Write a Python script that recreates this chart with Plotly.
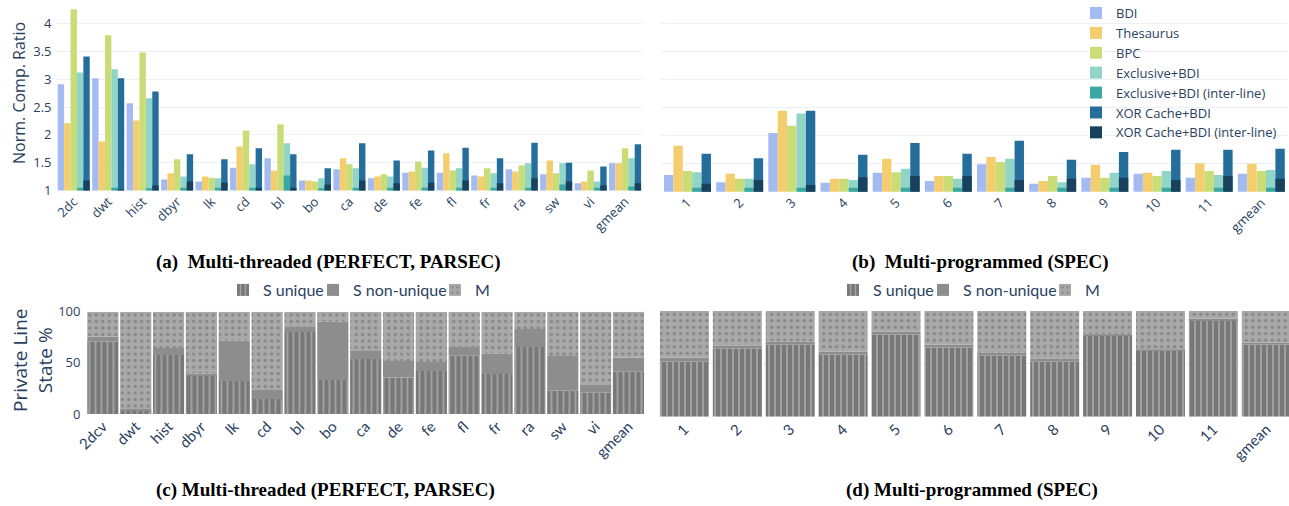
import plotly.graph_objects as go
import numpy as np

# ---------------- data ----------------
tl_cats = ["2dc", "dwt", "hist", "dbyr", "lk", "cd", "bl", "bo", "ca", "de", "fe", "fl", "fr", "ra", "sw", "vi", "gmean"]
tl_bdi = [2.91, 3.02, 2.57, 1.20, 1.16, 1.41, 1.58, 1.18, 1.38, 1.22, 1.32, 1.32, 1.27, 1.38, 1.29, 1.13, 1.49]
tl_thes = [2.21, 1.88, 2.26, 1.31, 1.25, 1.79, 1.36, 1.18, 1.58, 1.25, 1.34, 1.67, 1.25, 1.34, 1.54, 1.16, 1.49]
tl_bpc = [4.26, 3.79, 3.48, 1.56, 1.23, 2.08, 2.19, 1.16, 1.47, 1.29, 1.52, 1.36, 1.40, 1.45, 1.31, 1.36, 1.76]
tl_excl = [3.12, 3.18, 2.66, 1.25, 1.22, 1.47, 1.85, 1.22, 1.40, 1.25, 1.41, 1.40, 1.31, 1.49, 1.49, 1.16, 1.58]
tl_excl_il = [1.05, 1.05, 1.04, 1.05, 1.05, 1.05, 1.27, 1.04, 1.05, 1.05, 1.05, 1.05, 1.05, 1.05, 1.11, 1.05, 1.07]
tl_xor = [3.41, 3.02, 2.78, 1.65, 1.56, 1.76, 1.65, 1.40, 1.85, 1.54, 1.72, 1.77, 1.58, 1.86, 1.50, 1.43, 1.83]
tl_xor_il = [1.18, 1.02, 1.09, 1.16, 1.14, 1.05, 1.05, 1.11, 1.18, 1.13, 1.14, 1.18, 1.13, 1.22, 1.16, 1.09, 1.13]

tr_cats = ["1", "2", "3", "4", "5", "6", "7", "8", "9", "10", "11", "gmean"]
tr_bdi = [1.30, 1.17, 2.05, 1.16, 1.34, 1.19, 1.49, 1.14, 1.25, 1.32, 1.25, 1.32]
tr_thes = [1.82, 1.32, 2.45, 1.23, 1.59, 1.28, 1.62, 1.19, 1.48, 1.34, 1.51, 1.50]
tr_bpc = [1.37, 1.23, 2.18, 1.23, 1.35, 1.28, 1.53, 1.28, 1.25, 1.28, 1.37, 1.37]
tr_excl = [1.35, 1.23, 2.40, 1.21, 1.41, 1.23, 1.59, 1.17, 1.34, 1.37, 1.30, 1.39]
tr_excl_il = [1.07, 1.07, 1.07, 1.07, 1.07, 1.07, 1.07, 1.07, 1.07, 1.07, 1.07, 1.07]
tr_xor = [1.68, 1.60, 2.45, 1.66, 1.87, 1.68, 1.91, 1.57, 1.71, 1.75, 1.75, 1.77]
tr_xor_il = [1.14, 1.21, 1.12, 1.26, 1.28, 1.28, 1.21, 1.23, 1.25, 1.21, 1.28, 1.23]

series_names = ["BDI", "Thesaurus", "BPC", "Exclusive+BDI", "Exclusive+BDI (inter-line)",
                "XOR Cache+BDI", "XOR Cache+BDI (inter-line)"]

bl_cats = ["2dcv", "dwt", "hist", "dbyr", "lk", "cd", "bl", "bo", "ca", "de", "fe", "fl", "fr", "ra", "sw", "vi", "gmean"]
bl_su = [70.7, 2.9, 57.7, 37.1, 32.2, 14.7, 80.1, 33.2, 53.7, 35.8, 42.0, 57.0, 39.1, 65.5, 22.8, 20.8, 41.4]
bl_snu = [4.9, 2.0, 6.8, 2.6, 39.5, 8.8, 4.9, 57.0, 7.9, 16.0, 8.8, 8.5, 19.9, 17.5, 33.9, 7.5, 13.6]
bl_m = [24.4, 95.1, 35.5, 60.3, 28.3, 76.5, 15.0, 9.8, 38.4, 48.2, 49.2, 34.5, 41.0, 17.0, 43.3, 71.7, 45.0]

br_cats = ["1", "2", "3", "4", "5", "6", "7", "8", "9", "10", "11", "gmean"]
br_su = [52.0, 64.4, 68.1, 58.7, 77.6, 65.3, 57.7, 52.0, 76.7, 62.5, 90.9, 68.1]
br_snu = [3.8, 2.8, 2.9, 2.8, 2.8, 2.8, 2.9, 2.9, 1.8, 0.9, 1.8, 1.9]
br_m = [44.2, 32.8, 29.0, 38.5, 19.6, 31.9, 39.4, 45.1, 21.5, 36.6, 7.3, 30.0]

state_names = ["S unique", "S non-unique", "M"]

# ---------------- styles ----------------
W, H = 1289, 506
colors = ["#a4bbf2", "#f4cd6f", "#c9dc76", "#90d5c8", "#3aa7a3", "#256e9c", "#18415e"]
slots = [0, 1, 2, 3, 3, 4, 4]
FONT = "Open Sans"
TXT = "#2a3f5f"


def fx(p):
    return p / W


def fy(p):
    return 1 - p / H


fig = go.Figure()


def add_top(cats, series, xa, ya, gw, showlegend):
    bw = gw / 5
    for name, vals, col, slot in zip(series_names, series, colors, slots):
        fig.add_trace(go.Bar(
            x=cats, y=vals, name=name, xaxis=xa, yaxis=ya,
            marker=dict(color=col, line=dict(width=0)),
            width=bw, offset=-gw / 2 + slot * bw,
            showlegend=showlegend, legendgroup=name, legend="legend"))


add_top(tl_cats, [tl_bdi, tl_thes, tl_bpc, tl_excl, tl_excl_il, tl_xor, tl_xor_il], "x", "y", 0.93, False)
add_top(tr_cats, [tr_bdi, tr_thes, tr_bpc, tr_excl, tr_excl_il, tr_xor, tr_xor_il], "x2", "y2", 0.90, True)


def add_bottom(cats, su, snu, m, xa, ya, w, legends):
    su = np.array(su)
    snu = np.array(snu)
    m = np.array(m)
    fig.add_trace(go.Bar(
        x=cats, y=su, base=np.zeros(len(su)), name=state_names[0], xaxis=xa, yaxis=ya, width=w,
        marker=dict(color="#787878", line=dict(width=0),
                    pattern=dict(shape="|", fgcolor="#a8a8a8", bgcolor="#787878", size=6,
                                 solidity=0.28, fillmode="replace")),
        legend=legends[0]))
    fig.add_trace(go.Bar(
        x=cats, y=snu, base=su, name=state_names[1], xaxis=xa, yaxis=ya, width=w,
        marker=dict(color="#8d8d8d", line=dict(width=0)),
        legend=legends[1]))
    fig.add_trace(go.Bar(
        x=cats, y=m, base=su + snu, name=state_names[2], xaxis=xa, yaxis=ya, width=w,
        marker=dict(color="#a9a9a9", line=dict(width=0),
                    pattern=dict(shape=".", fgcolor="#888888", bgcolor="#a9a9a9", size=6.5,
                                 solidity=0.22, fillmode="replace")),
        legend=legends[2]))


add_bottom(bl_cats, bl_su, bl_snu, bl_m, "x3", "y3", 0.948, ["legend2", "legend3", "legend4"])
add_bottom(br_cats, br_su, br_snu, br_m, "x4", "y4", 0.926, ["legend5", "legend6", "legend7"])

tickf = dict(family=FONT, size=13, color=TXT)
tickf_b = dict(family="Lato", size=15, color=TXT)

common_x = dict(type="category", tickangle=-45, showgrid=False, automargin=False)
common_y = dict(automargin=False, gridcolor="#EBF0F8", zeroline=False)

fig.update_layout(
    template="plotly_white",
    width=W, height=H,
    margin=dict(l=0, r=0, t=0, b=0, autoexpand=False),
    barmode="overlay",
    font=dict(family=FONT, color=TXT),
    xaxis=dict(domain=[fx(56.5), fx(642.3)], anchor="y", range=[-0.5, len(tl_cats) - 0.5],
               tickfont=tickf, **common_x),
    yaxis=dict(domain=[fy(190.5), fy(7)], anchor="x", range=[1, 4.3], dtick=0.5,
               tickfont=tickf, ticklabelstandoff=4, **common_y),
    xaxis2=dict(domain=[fx(661.4), fx(1287.4)], anchor="y2", range=[-0.5, len(tr_cats) - 0.5],
                tickfont=tickf, **common_x),
    yaxis2=dict(domain=[fy(191.7), fy(7.2)], anchor="x2", range=[1, 4.3], dtick=0.5,
                showticklabels=False, **common_y),
    xaxis3=dict(domain=[fx(86.45), fx(644.9)], anchor="y3", range=[-0.5, len(bl_cats) - 0.5],
                tickfont=tickf_b, **common_x),
    yaxis3=dict(domain=[fy(414), fy(311.7)], anchor="x3", range=[0, 100], dtick=50,
                tickfont=tickf, ticklabelstandoff=5, **common_y),
    xaxis4=dict(domain=[fx(658), 1.0], anchor="y4", range=[-0.5, 11.43],
                tickfont=tickf_b, **common_x),
    yaxis4=dict(domain=[fy(416.7), fy(311)], anchor="x4", range=[0, 100], dtick=50,
                showticklabels=False, **common_y),
    legend=dict(x=fx(1076), y=1 + 2 / H, xanchor="left", yanchor="top", bgcolor="rgba(0,0,0,0)",
                font=dict(family=FONT, size=13, color=TXT), tracegroupgap=0),
)

# one single-entry legend per bottom state, placed where the reference puts each entry
bottom_text_x = {"legend2": 263, "legend3": 353, "legend4": 475,
                 "legend5": 873, "legend6": 963, "legend7": 1085}
for lg, tx in bottom_text_x.items():
    fig.update_layout({lg: dict(orientation="h", x=fx(tx - 40), y=fy(290), xanchor="left",
                                yanchor="middle", bgcolor="rgba(0,0,0,0)",
                                font=dict(family="Lato", size=16, color=TXT))})

# axis titles (rotated text)
fig.add_annotation(text="Norm. Comp. Ratio", x=fx(19), y=fy(93), xref="paper", yref="paper",
                   xanchor="center", yanchor="middle", textangle=-90, showarrow=False,
                   font=dict(family=FONT, size=16, color=TXT))
fig.add_annotation(text="Private Line<br>State %", x=fx(32), y=fy(361), xref="paper", yref="paper",
                   xanchor="center", yanchor="middle", textangle=-90, showarrow=False,
                   font=dict(family=FONT, size=19, color=TXT))

capf = dict(family="Liberation Serif", size=19, color="black")
captions = [
    ("<b>(a)&nbsp; Multi-threaded (PERFECT, PARSEC)</b>", 328, 262),
    ("<b>(b)&nbsp; Multi-programmed (SPEC)</b>", 980, 262),
    ("<b>(c) Multi-threaded (PERFECT, PARSEC)</b>", 325, 490),
    ("<b>(d) Multi-programmed (SPEC)</b>", 972, 490),
]
for text, cx, cy in captions:
    fig.add_annotation(text=text, x=fx(cx), y=fy(cy), xref="paper", yref="paper",
                       xanchor="center", yanchor="middle", showarrow=False, font=capf)

# remove the default page margin so the figure sits at the window's top-left corner
fig.write_html("out.html", config={"displayModeBar": False},
               post_script="document.body.style.margin='0';document.body.style.overflow='hidden';")
